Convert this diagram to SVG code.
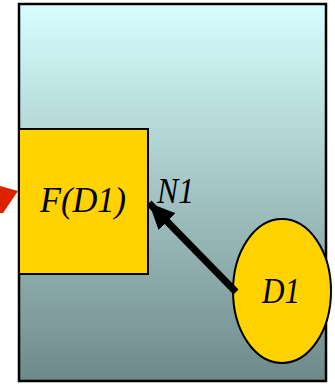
<svg xmlns="http://www.w3.org/2000/svg" width="335" height="384" viewBox="0 0 335 384">
<defs>
<linearGradient id="bg" x1="0" y1="0" x2="0" y2="1">
<stop offset="0" stop-color="#d7ffff"/>
<stop offset="1" stop-color="#6f8989"/>
</linearGradient>
<marker id="ah" markerUnits="userSpaceOnUse" markerWidth="30" markerHeight="30" refX="26" refY="12" orient="auto">
<path d="M0,0 L26,12 L0,24 Z" fill="#000"/>
</marker>
<style>
.lbl{font-family:"Liberation Serif","Times New Roman",serif;font-style:italic;font-size:35px;fill:#000}
.node{fill:#ffd200;stroke:#000;stroke-width:2}
</style>
</defs>
<rect x="19" y="4" width="307" height="377" fill="url(#bg)" stroke="#000" stroke-width="2.5"/>
<g id="F">
<rect class="node" x="19" y="129" width="129" height="145"/>
<text class="lbl" x="40" y="212" textLength="86" lengthAdjust="spacingAndGlyphs">F(D1)</text>
</g>
<g id="D1">
<ellipse class="node" cx="282" cy="291" rx="49" ry="72"/>
<text class="lbl" x="262" y="303" textLength="38" lengthAdjust="spacingAndGlyphs">D1</text>
</g>
<g id="connectors">
<line x1="236" y1="292" x2="149" y2="203" stroke="#000" stroke-width="7" marker-end="url(#ah)"/>
<polygon points="0,186 18,191 3,213 0,213" fill="#dd2200"/>
<text class="lbl" x="157" y="203" textLength="37" lengthAdjust="spacingAndGlyphs">N1</text>
</g>
</svg>
